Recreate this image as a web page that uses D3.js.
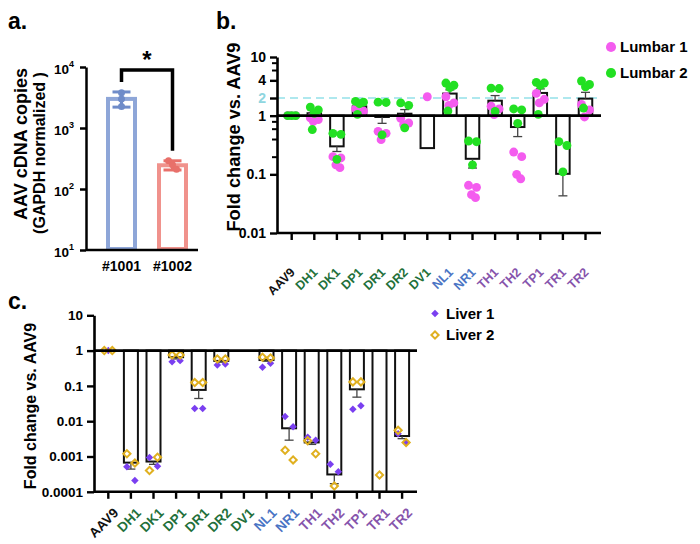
<!DOCTYPE html>
<html><head><meta charset="utf-8">
<script src="https://cdn.jsdelivr.net/npm/d3@7"></script>
<style>
body{margin:0;background:#fff}
svg{display:block}
text{font-family:Arial,"Liberation Sans",sans-serif;font-weight:bold}
</style>
</head><body>
<svg id="chart" width="700" height="544"></svg>
<script>
// ---------------- DATA ----------------
// Panel a
const aCats = ["#1001", "#1002"];
const aMean = [3000, 245];
const aErrHi = [3900, 290];
const aErrLo = [2200, 205];
const aPts = [[3800, 3000, 2250], [290, 250, 210]];
const aYTicks = [10, 100, 1000, 10000];

// Panels b & c share categories
const cats = ["AAV9","DH1","DK1","DP1","DR1","DR2","DV1","NL1","NR1","TH1","TH2","TP1","TR1","TR2"];
const catGroup = ["ctrl","D","D","D","D","D","D","N","N","T","T","T","T","T"];

// Panel b
const bBar = [1, 1.1, 0.30, 1.44, 0.95, 1.08, 0.28, 2.38, 0.184, 1.8, 0.64, 2.44, 0.102, 1.95];
const bErr = [null, 1.18, 0.245, 1.58, 0.74, 1.27, null, 2.75, 0.128, 2.2, 0.44, 2.86, 0.043, 2.5];
const lumbar1 = [
  [1,1,1],[0.92,0.86,0.8,0.95],[0.2,0.19,0.145,0.13],[1.3,1.2,1.1],[0.54,0.5,0.39],
  [0.9,0.75,0.7],[2.1],[2.1,1.65,1.5],[0.065,0.06,0.045,0.04],[1.45,1.3,1.04],
  [0.24,0.2,0.1,0.084],[2.4,1.9,1.65],[],[1.55,1.25,0.95]
];
const lumbar2 = [
  [1,1,1],[1.4,1.25,1.1,0.58],[0.5,0.48,0.18],[1.75,1.7,1.6,1.05],[1.7,1.68,0.47],
  [1.65,1.5,0.62],[],[3.6,3.3,3.0,1.2],[0.37,0.36,0.145],[2.95,2.9,1.18],
  [1.3,1.25,0.74],[3.7,3.6,3.3,1.05],[0.36,0.31,0.11],[3.9,3.4,3.1,1.35]
];
const bMajor = [0.01, 0.1, 1, 2, 4, 10];
const bMinor = [0.2, 0.4, 0.6, 0.8, 6, 8];
const bRef = 2;

// Panel c
const cBar = [1, 0.00067, 0.00072, 0.65, 0.077, 0.51, null, 0.54, 0.0063, 0.0025, 0.00031, 0.08, 0.00009, 0.0038];
const cErr = [null, 0.00044, 0.0006, 0.58, 0.044, 0.47, null, 0.5, 0.0029, 0.0022, 0.00017, 0.048, null, 0.0032];
const liver1 = [
  [1],[0.00051,0.00021],[0.00093,0.00053],[0.48,0.52],[0.023,0.023],[0.39,0.42],[],
  [0.34,0.44],[0.0135,0.007],[0.0035,0.0029],[0.0006,0.00037],[0.0217,0.0275],[],[0.0044,0.0025]
];
const liver2 = [
  [1,1],[0.0012,0.00065],[0.0004,0.00095],[0.75,0.75],[0.124,0.124],[0.58,0.58],[],
  [0.65,0.62],[0.0015,0.0008],[0.0028,0.0012],[0.000146],[0.13,0.13],[0.0003],[0.0055,0.0025]
];
const cMajor = [0.0001, 0.001, 0.01, 0.1, 1, 10];

// ---------------- STYLE ----------------
const groupColor = {ctrl:"#111111", D:"#22703a", N:"#4a74c4", T:"#8654ac"};
const pink = "#f45cef", green = "#22e022", purple = "#7a3ff0", gold = "#e0b020";
const svg = d3.select("#chart");

// ---------------- PANEL A ----------------
(function(){
  const g = svg.append("g");
  const x = d3.scaleBand().domain(aCats).range([96, 198]);
  const y = d3.scaleLog().domain([10, 10000]).range([250, 67]);
  const barCol = ["#8ea6d8", "#f0928c"];
  const dotCol = ["#6f8cc9", "#e8706a"];
  const cx = d => x(d) + x.bandwidth()/2;

  g.selectAll("rect.bar").data(aCats).join("rect")
    .attr("x", d => cx(d) - 13.5).attr("width", 27)
    .attr("y", (d,i) => y(aMean[i])).attr("height", (d,i) => y(10) - y(aMean[i]) - 1)
    .attr("fill", "none").attr("stroke", (d,i) => barCol[i]).attr("stroke-width", 4);

  const eb = g.selectAll("g.err").data(aCats).join("g").attr("stroke", (d,i)=>dotCol[i]).attr("stroke-width", 3);
  eb.append("line").attr("x1", cx).attr("x2", cx).attr("y1", (d,i)=>y(aErrHi[i])).attr("y2", (d,i)=>y(aErrLo[i]));
  eb.append("line").attr("x1", d=>cx(d)-9).attr("x2", d=>cx(d)+9).attr("y1", (d,i)=>y(aErrHi[i])).attr("y2", (d,i)=>y(aErrHi[i]));
  eb.append("line").attr("x1", d=>cx(d)-9).attr("x2", d=>cx(d)+9).attr("y1", (d,i)=>y(aErrLo[i])).attr("y2", (d,i)=>y(aErrLo[i]));

  aCats.forEach((c,i) => {
    g.selectAll(null).data(aPts[i]).join("circle")
      .attr("cx", (v,j) => cx(c) + (i === 0 ? 0 : (j-1)*4)).attr("cy", v => y(v)).attr("r", 3.5)
      .attr("fill", dotCol[i]);
  });

  const ax = g.append("g").attr("transform", "translate(86,0)")
    .call(d3.axisLeft(y).tickValues(aYTicks).tickSize(6).tickSizeOuter(0).tickFormat(""));
  ax.select(".domain").attr("stroke", "#000").attr("stroke-width", 2.5);
  ax.selectAll(".tick line").attr("stroke", "#000").attr("stroke-width", 2.5);
  ax.selectAll(".tick").append("text").attr("x", -12).attr("y", 6).attr("text-anchor", "end")
    .attr("fill", "#000").attr("font-size", 13.5)
    .each(function(d){
      const t = d3.select(this);
      t.append("tspan").text("10");
      t.append("tspan").attr("dy", -7).attr("font-size", 9).text(Math.round(Math.log10(d)));
    });
  g.append("line").attr("x1", 86).attr("x2", 198).attr("y1", 250).attr("y2", 250)
    .attr("stroke", "#000").attr("stroke-width", 2.5);
  g.selectAll("text.xl").data(aCats).join("text").attr("class", "xl")
    .attr("x", cx).attr("y", 271).attr("text-anchor", "middle").attr("font-size", 14).text(d => d);

  // significance bracket
  g.append("path").attr("d", `M${cx(aCats[0])},${y(aErrHi[0])-10}V70H${cx(aCats[1])}V${y(aErrHi[1])-10}`)
    .attr("fill", "none").attr("stroke", "#000").attr("stroke-width", 3.5);
  g.append("text").attr("x", (cx(aCats[0])+cx(aCats[1]))/2).attr("y", 68).attr("text-anchor", "middle")
    .attr("font-size", 24).text("*");

  g.append("text").attr("transform", "translate(27,144) rotate(-90)").attr("text-anchor", "middle")
    .attr("font-size", 18).text("AAV cDNA copies");
  g.append("text").attr("transform", "translate(45,153) rotate(-90)").attr("text-anchor", "middle")
    .attr("font-size", 16).text("(GAPDH normalized )");
  g.append("text").attr("x", 8).attr("y", 29).attr("font-size", 23).text("a.");
})();

// ---------------- SHARED PANEL DRAW ----------------
function drawLogPanel(cfg){
  const g = svg.append("g");
  const x = d3.scaleBand().domain(cats).range(cfg.xRange);
  const y = d3.scaleLog().domain(cfg.yDomain).range([cfg.bottom, cfg.top]).clamp(true);
  const cx = d => x(d) + x.bandwidth()/2;
  const bw = cfg.barW;

  if (cfg.refLine) {
    g.append("line").attr("x1", cfg.left).attr("x2", cfg.right).attr("y1", y(cfg.refLine)).attr("y2", y(cfg.refLine))
      .attr("stroke", "#aee8ee").attr("stroke-width", 2.2).attr("stroke-dasharray", "8,5");
  }

  const barData = cats.map((c,i) => ({c, v: cfg.bars[i], e: cfg.errs[i]})).filter(d => d.v != null);
  g.selectAll("rect.bar").data(barData).join("rect")
    .attr("x", d => cx(d.c) - bw/2).attr("width", bw)
    .attr("y", d => Math.min(y(1), y(d.v))).attr("height", d => Math.abs(y(d.v) - y(1)))
    .attr("fill", "#fff").attr("stroke", "#111").attr("stroke-width", 2);

  const errData = barData.filter(d => d.e != null);
  const eg = g.selectAll("g.err").data(errData).join("g").attr("stroke", "#444").attr("stroke-width", 1.3);
  eg.append("line").attr("x1", d=>cx(d.c)).attr("x2", d=>cx(d.c)).attr("y1", d=>y(d.v)).attr("y2", d=>y(d.e));
  eg.append("line").attr("x1", d=>cx(d.c)-4.5).attr("x2", d=>cx(d.c)+4.5).attr("y1", d=>y(d.e)).attr("y2", d=>y(d.e));

  cfg.series.forEach(s => {
    const pts = [];
    cats.forEach((c,i) => s.values[i].forEach((v,j) => pts.push({c, v, j, n: s.values[i].length})));
    const offs = s.offsets;
    const sel = g.selectAll(null).data(pts).join("path")
      .attr("transform", d => `translate(${cx(d.c) + (d.n === 1 ? 0 : offs[d.j % offs.length])},${y(d.v)})` + (s.rotate ? " rotate(45)" : ""))
      .attr("d", d3.symbol().type(s.symbol).size(s.size));
    s.style(sel);
  });

  // baseline at 1
  g.append("line").attr("x1", cfg.left).attr("x2", cfg.right).attr("y1", y(1)).attr("y2", y(1))
    .attr("stroke", "#000").attr("stroke-width", 2.6);

  // y axis
  const ax = g.append("g").attr("transform", `translate(${cfg.left},0)`)
    .call(d3.axisLeft(y).tickValues(cfg.major).tickSize(7).tickSizeOuter(0).tickPadding(4)
      .tickFormat(d => d3.format("~")(d)));
  ax.select(".domain").attr("stroke", "#000").attr("stroke-width", 2.6);
  ax.selectAll(".tick line").attr("stroke", "#000").attr("stroke-width", 2.4);
  ax.selectAll(".tick text").attr("font-size", cfg.tickFont).attr("font-family", "Arial,'Liberation Sans',sans-serif")
    .attr("font-weight", "bold").attr("fill", d => d === cfg.refLine ? "#8fd6df" : "#000");
  if (cfg.minor) {
    const mx = g.append("g").attr("transform", `translate(${cfg.left},0)`)
      .call(d3.axisLeft(y).tickValues(cfg.minor).tickSize(5).tickSizeOuter(0).tickFormat(""));
    mx.select(".domain").remove();
    mx.selectAll(".tick line").attr("stroke", "#000").attr("stroke-width", 2);
  }

  // x axis
  g.append("line").attr("x1", cfg.left).attr("x2", cfg.right).attr("y1", cfg.bottom).attr("y2", cfg.bottom)
    .attr("stroke", "#000").attr("stroke-width", 2.6);
  const xt = g.append("g").attr("transform", `translate(0,${cfg.bottom})`)
    .call(d3.axisBottom(x).tickSize(7).tickSizeOuter(0).tickFormat(""));
  xt.select(".domain").remove();
  xt.selectAll(".tick line").attr("stroke", "#000").attr("stroke-width", 2.4);
  xt.selectAll(".tick").append("text")
    .attr("transform", `translate(${cfg.labOff[0]},${cfg.labOff[1]}) rotate(-45)`)
    .attr("text-anchor", "end").attr("font-size", cfg.labFont)
    .attr("fill", (d) => groupColor[catGroup[cats.indexOf(d)]]).text(d => d);

  // y label
  g.append("text").attr("transform", `translate(${cfg.yLab[0]},${cfg.yLab[1]}) rotate(-90)`)
    .attr("text-anchor", "middle").attr("font-size", cfg.yLabFont).text("Fold change vs. AAV9");
  g.append("text").attr("x", cfg.tag[0]).attr("y", cfg.tag[1]).attr("font-size", 23).text(cfg.tagText);

  // legend
  cfg.series.forEach((s,i) => {
    const lx = cfg.legend[0], ly = cfg.legend[1] + i*cfg.legend[2];
    const p = g.append("path").attr("transform", `translate(${lx},${ly})` + (s.rotate ? " rotate(45)" : ""))
      .attr("d", d3.symbol().type(s.symbol).size(s.legSize)());
    s.style(p);
    g.append("text").attr("x", lx + cfg.legend[3]).attr("y", ly).attr("dy", "0.35em")
      .attr("font-size", 15).text(s.name);
  });
}

// ---------------- PANEL B ----------------
drawLogPanel({
  xRange: [280.4, 596.8], yDomain: [0.01, 10], top: 57, bottom: 233, left: 277, right: 601,
  bars: bBar, errs: bErr, barW: 13.5, major: bMajor, minor: bMinor, refLine: bRef,
  tickFont: 14, labFont: 12.5, labOff: [4, 40], yLab: [240, 137], yLabFont: 18.2,
  tag: [216, 29], tagText: "b.", legend: [611, 47, 26, 9],
  series: [
    {name: "Lumbar 1", values: lumbar1, symbol: d3.symbolCircle, size: 62, legSize: 80, offsets: [-4, 4, -1, 3],
     style: s => s.attr("fill", pink)},
    {name: "Lumbar 2", values: lumbar2, symbol: d3.symbolCircle, size: 62, legSize: 80, offsets: [-4, 4, 0, -2],
     style: s => s.attr("fill", green)}
  ]
});

// ---------------- PANEL C ----------------
drawLogPanel({
  xRange: [97, 413.4], yDomain: [0.0001, 10], top: 315.3, bottom: 491.8, left: 94, right: 417,
  bars: cBar, errs: cErr, barW: 14, major: cMajor, minor: null, refLine: null,
  tickFont: 13.5, labFont: 13.5, labOff: [11, 22], yLab: [36, 406], yLabFont: 16,
  tag: [8, 309], tagText: "c.", legend: [435, 313.5, 21.5, 11],
  series: [
    {name: "Liver 1", values: liver1, symbol: d3.symbolSquare, size: 28, legSize: 28, rotate: true, offsets: [-4, 4],
     style: s => s.attr("fill", purple)},
    {name: "Liver 2", values: liver2, symbol: d3.symbolSquare, size: 26, legSize: 26, rotate: true, offsets: [-4, 4],
     style: s => s.attr("fill", "none").attr("stroke", gold).attr("stroke-width", 2)}
  ]
});
</script>
</body></html>
